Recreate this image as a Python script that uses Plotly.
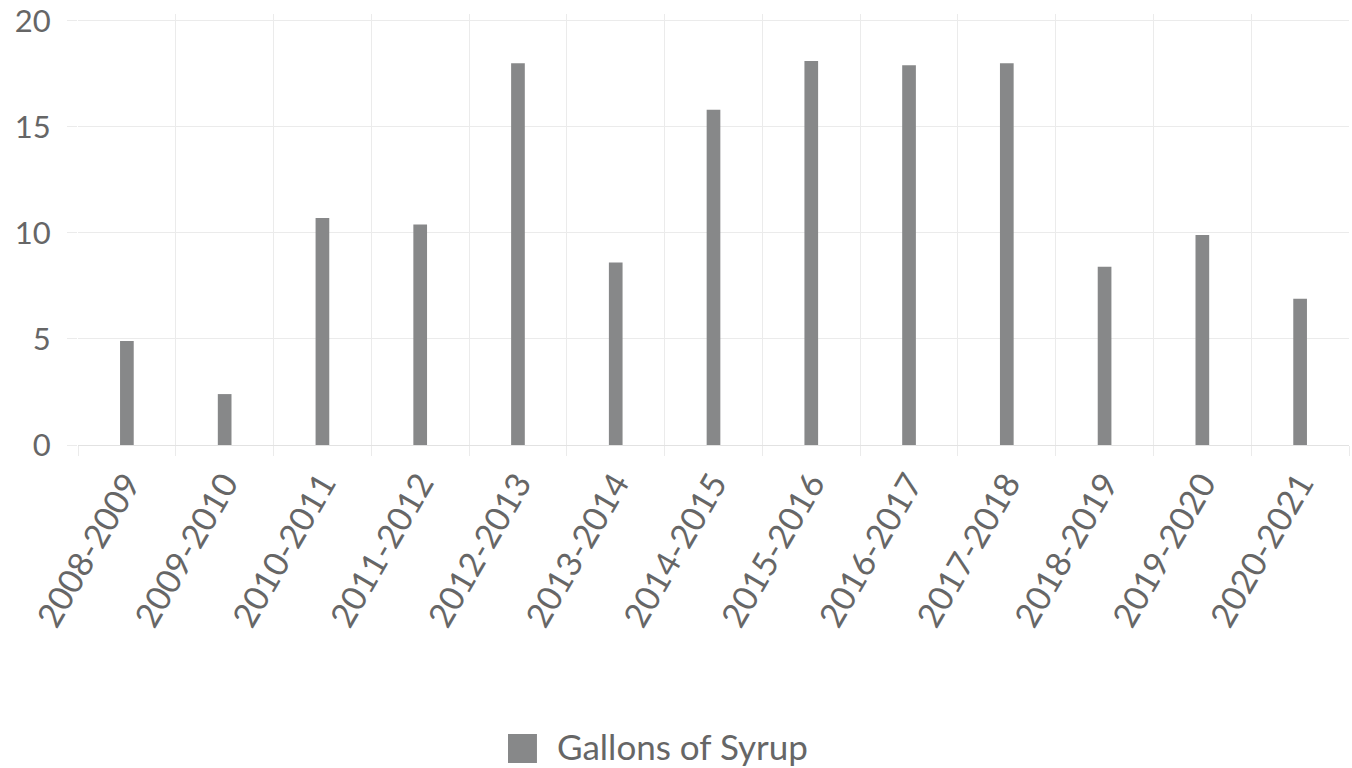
import plotly.graph_objects as go

seasons = ["2008-2009", "2009-2010", "2010-2011", "2011-2012", "2012-2013",
           "2013-2014", "2014-2015", "2015-2016", "2016-2017", "2017-2018",
           "2018-2019", "2019-2020", "2020-2021"]
gallons = [4.9, 2.4, 10.7, 10.4, 18.0, 8.6, 15.8, 18.1, 17.9, 18.0, 8.4, 9.9, 6.9]
y_ticks = [0, 5, 10, 15, 20]
series_name = "Gallons of Syrup"

FONT = "Lato, 'Open Sans', sans-serif"
TEXT = "#666666"
GRID = "#ebebeb"
BAR = "#878889"

fig = go.Figure(go.Bar(
    x=seasons, y=gallons, name=series_name,
    marker=dict(color=BAR, line=dict(width=0)),
    width=0.14, showlegend=False,
))

# legend drawn as a swatch + label (large square swatch as in the reference)
fig.add_shape(type="rect", xref="paper", yref="paper",
              x0=0.3383, x1=0.3611, y0=-0.7378, y1=-0.6705,
              fillcolor=BAR, line=dict(width=0))
fig.add_annotation(xref="paper", yref="paper", x=0.3753, y=-0.698,
                   xanchor="left", yanchor="middle", showarrow=False,
                   text=series_name, font=dict(size=35, color=TEXT, family=FONT))

fig.update_layout(
    width=1352, height=768,
    margin=dict(l=78, r=3, t=14, b=323),
    paper_bgcolor="white", plot_bgcolor="white",
    font=dict(family=FONT, color=TEXT, size=31),
    showlegend=False,
    xaxis=dict(type="category", tickson="boundaries", showgrid=True, gridcolor=GRID, gridwidth=1,
               ticks="outside", ticklen=10, tickcolor=GRID, tickangle=-60,
               tickfont=dict(size=34, color=TEXT), range=[-0.5, 12.5],
               ticklabelstandoff=11,
               showline=False, zeroline=False, automargin=False,
               ticklabeloverflow="allow"),
    yaxis=dict(range=[0, 20.32], tickvals=y_ticks, showgrid=True, gridcolor=GRID, gridwidth=1,
               ticks="outside", ticklen=10, tickcolor=GRID, tickfont=dict(size=31, color=TEXT),
               ticklabelstandoff=10, ticklabeloverflow="allow",
               zeroline=True, zerolinecolor="#e2e2e2", zerolinewidth=1, showline=False,
               automargin=False),
)

fig.write_html(
    "out.html",
    config={"displayModeBar": False},
    post_script="document.body.style.margin='0';document.body.style.overflow='hidden';",
)
